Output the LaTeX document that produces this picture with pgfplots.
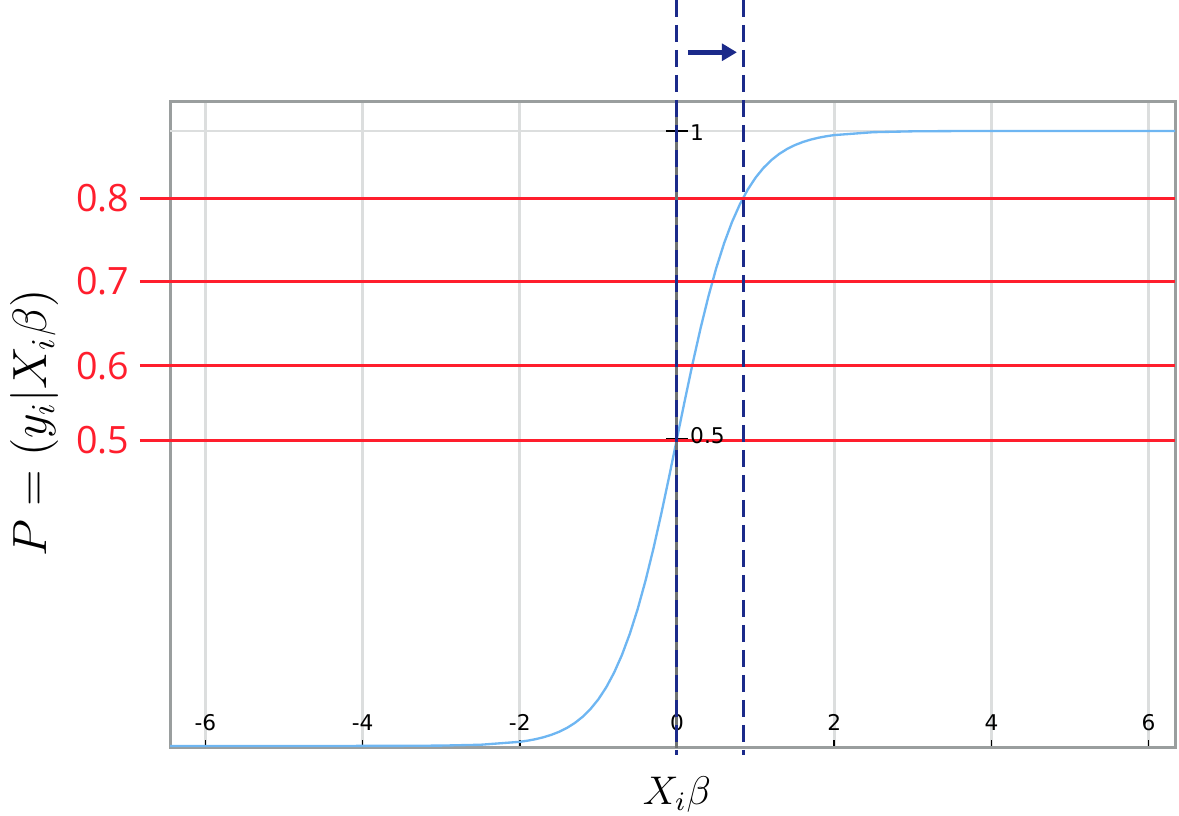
\documentclass[border=0pt]{standalone}
\usepackage{fontspec}
\usepackage{pgfplots}
\pgfplotsset{compat=1.18}
\usetikzlibrary{arrows.meta}
\newfontfamily\redfont{Open Sans}
\newfontfamily\tickfont{DejaVu Sans}
\definecolor{curveblue}{HTML}{6EB6F2}
\definecolor{navy}{HTML}{1B2A8A}
\definecolor{redline}{HTML}{FF1E2D}
\definecolor{framegray}{HTML}{9A9E9E}
\definecolor{gridgray}{HTML}{DCDEDE}
\definecolor{zerogray}{HTML}{6E7272}
\begin{document}
\begin{tikzpicture}
\begin{axis}[
  scale only axis, width=301.5pt, height=193.8pt,
  xmin=-6.45, xmax=6.336, ymin=-0.00325, ymax=1.0472,
  clip=false,
  axis line style={framegray, line width=0.9pt},
  xtick={-6,-4,-2,0,2,4,6},
  xticklabels={-6,-4,-2,0,2,4,6},
  xtick pos=bottom, tick align=inside, major tick length=2.4pt,
  x tick style={black, line width=0.5pt},
  xticklabel style={font=\tickfont\fontsize{6.5}{7}\selectfont, anchor=south, inner sep=0pt, yshift=5pt},
  xmajorgrids=true,
  major grid style={gridgray, line width=0.9pt},
  ytick={0.497,0.618,0.756,0.891},
  yticklabels={0.5,0.6,0.7,0.8},
  ytick pos=left, y tick style={draw=none},
  yticklabel style={font=\redfont\fontsize{11.3}{12}\selectfont, text=redline, anchor=east, inner sep=0pt, xshift=-12pt},
]
% light line at P=1
\addplot[gridgray, line width=0.6pt] coordinates {(-6.45,1)(6.336,1)};
% logistic curve
\addplot[curveblue, line width=0.7pt] coordinates {
(-6.45,0)(-5,0.000004)(-4,0.0000454)(-3.5,0.000158)(-3,0.000553)(-2.5,0.001927)
(-2.0,0.006693)(-1.9,0.008577)(-1.8,0.010987)(-1.7,0.014064)(-1.6,0.017986)
(-1.5,0.022977)(-1.4,0.029312)(-1.3,0.037327)(-1.2,0.047426)(-1.1,0.060087)
(-1.0,0.075858)(-0.9,0.095349)(-0.8,0.119203)(-0.7,0.148047)(-0.6,0.182426)
(-0.5,0.222700)(-0.4,0.268941)(-0.3,0.320821)(-0.2,0.377541)(-0.1,0.437823)
(0,0.5)
(0.1,0.562177)(0.2,0.622459)(0.3,0.679179)(0.4,0.731059)(0.5,0.777300)
(0.6,0.817574)(0.7,0.851953)(0.8,0.880797)(0.9,0.904651)(1.0,0.924142)
(1.1,0.939913)(1.2,0.952574)(1.3,0.962673)(1.4,0.970688)(1.5,0.977023)
(1.6,0.982014)(1.7,0.985936)(1.8,0.989013)(1.9,0.991423)(2.0,0.993307)
(2.5,0.998073)(3,0.999447)(3.5,0.999842)(4,0.999955)(5,0.999996)(6.336,1)
};
% red reference lines
\addplot[redline, line width=0.9pt] coordinates {(-6.832,0.497)(6.336,0.497)};
\addplot[redline, line width=0.9pt] coordinates {(-6.832,0.618)(6.336,0.618)};
\addplot[redline, line width=0.9pt] coordinates {(-6.832,0.756)(6.336,0.756)};
\addplot[redline, line width=0.9pt] coordinates {(-6.832,0.891)(6.336,0.891)};
% vertical axis at zero
\addplot[zerogray, line width=0.9pt] coordinates {(0,-0.00325)(0,1.0472)};
\addplot[black, line width=0.5pt] coordinates {(-0.14,1)(0.14,1)};
\addplot[black, line width=0.5pt] coordinates {(-0.14,0.5)(0.14,0.5)};
\node[anchor=west, inner sep=0pt, font=\tickfont\fontsize{6.5}{7}\selectfont] at (axis cs:0.16,0.998) {1};
\node[anchor=west, inner sep=0pt, font=\tickfont\fontsize{6.5}{7}\selectfont] at (axis cs:0.16,0.504) {0.5};
% dashed shift lines and arrow
\addplot[navy, line width=0.9pt, dash pattern=on 5pt off 2.5pt] coordinates {(0,1.213)(0,-0.015)};
\addplot[navy, line width=0.9pt, dash pattern=on 5pt off 2.5pt] coordinates {(0.84,1.213)(0.84,-0.015)};
\addplot[navy, line width=1.5pt, -{Triangle[length=4.5pt,width=5pt]}] coordinates {(0.14,1.128)(0.763,1.128)};
% axis titles
\node[rotate=90, font=\Large] at (axis cs:-8.17,0.525) {$P = (y_i|X_i\beta)$};
\node[font=\large] at (axis cs:0,-0.0797) {$X_i\beta$};
\coordinate (BL) at (axis cs:-8.613,-0.1138);
\coordinate (TR) at (axis cs:6.387,1.213);
\end{axis}
\pgfresetboundingbox
\path[use as bounding box] (BL) rectangle (TR);
\end{tikzpicture}
\end{document}
